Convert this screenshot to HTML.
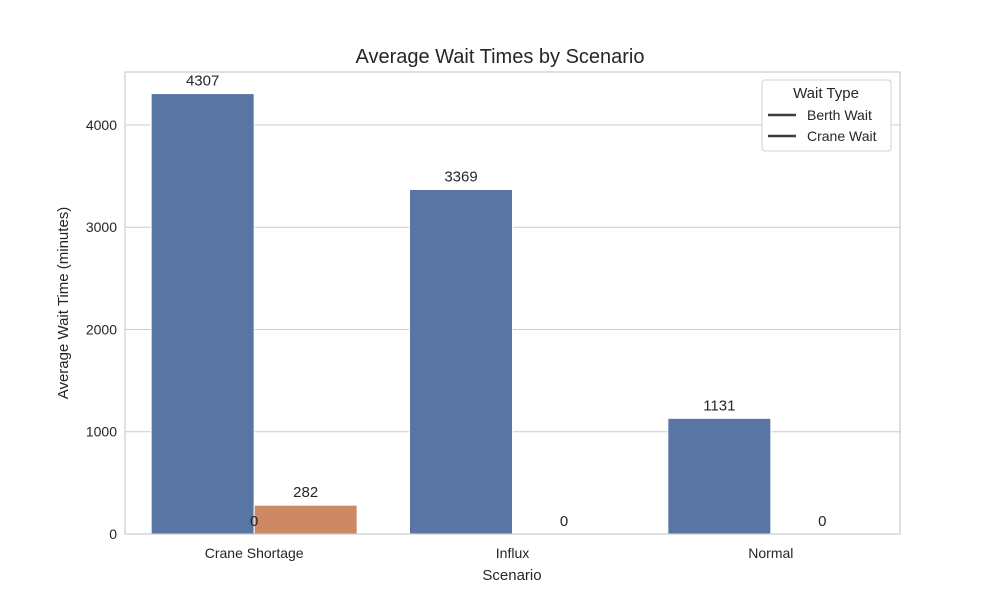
<!DOCTYPE html>
<html><head><meta charset="utf-8"><style>
body{margin:0;background:#fff;font-family:"Liberation Sans","DejaVu Sans",sans-serif}
svg text{font-family:"Liberation Sans","DejaVu Sans",sans-serif;fill:#262626}
</style></head><body>
<svg id="chart" width="1000" height="600"></svg>
<script>
const categories=["Crane Shortage","Influx","Normal"];
const berthWait=[4307,3369,1131];
const craneWait=[282,0,0];
const yTicks=[0,1000,2000,3000,4000];
const extraZeroLabels=["0"];
const svg=document.getElementById('chart');
const NS="http://www.w3.org/2000/svg";
const L=125,R=900,T=72,B=534;
const yMax=4518;
function y(v){return B-(v/yMax)*(B-T);}
const groupW=(R-L)/categories.length;
function xc(i){return L+groupW*(i+0.5);}
const bw=103;
function mk(tag,attrs,parent){const e=document.createElementNS(NS,tag);for(const k in attrs)e.setAttribute(k,attrs[k]);(parent||svg).appendChild(e);return e;}
function txt(x,yy,s,opt){const e=mk('text',Object.assign({x:x,y:yy,'text-anchor':'middle','font-size':14},opt||{}));e.textContent=s;return e;}
let t=txt(500,63,"Average Wait Times by Scenario",{'font-size':20});


yTicks.forEach(v=>{
 const g=mk('line',{x1:L,x2:R,y1:y(v),y2:y(v),stroke:'#cccccc','stroke-width':1});
 
 
 const l=txt(L-8,y(v)+5,String(v),{'text-anchor':'end'});
 
 
});
categories.forEach((c,i)=>{
 const b1=mk('rect',{x:xc(i)-bw,y:y(berthWait[i]),width:bw,height:B-y(berthWait[i]),fill:'#5875a4',stroke:'#fff','stroke-width':1});
 
 
 const b2=mk('rect',{x:xc(i),y:y(craneWait[i]),width:bw,height:B-y(craneWait[i]),fill:'#cc8963',stroke:'#fff','stroke-width':1});
 
 
 const v1=txt(xc(i)-bw/2,y(berthWait[i])-8,String(berthWait[i]),{'font-size':15});
 
 
 const v2=txt(xc(i)+bw/2,y(craneWait[i])-8,String(craneWait[i]),{'font-size':15});
 
 
 const xl=txt(xc(i),558,c);
 
 
});
const z=txt(xc(0),526,extraZeroLabels[0],{'font-size':15});


const fr=mk('rect',{x:L,y:T,width:R-L,height:B-T,fill:'none',stroke:'#cccccc','stroke-width':1.2});


let xt=txt(512,580,"Scenario",{'font-size':15});


let yt=txt(0,0,"Average Wait Time (minutes)",{'font-size':15,transform:'translate(68,303) rotate(-90)'});


const lg=mk('g',{});


mk('rect',{x:762,y:80,width:129,height:71,rx:3,fill:'#fff',stroke:'#d0d0d0'},lg);
const lt=txt(826,98,"Wait Type",{'font-size':15});
lg.appendChild(lt);
["Berth Wait","Crane Wait"].forEach((s,k)=>{
 const e=mk('g',{},lg);
 
 
 mk('line',{x1:768,x2:796,y1:115+k*21,y2:115+k*21,stroke:'#3d3d3d','stroke-width':2.5},e);
 const tx=txt(807,120+k*21,s,{'text-anchor':'start'});e.appendChild(tx);
});
</script>
</body></html>
